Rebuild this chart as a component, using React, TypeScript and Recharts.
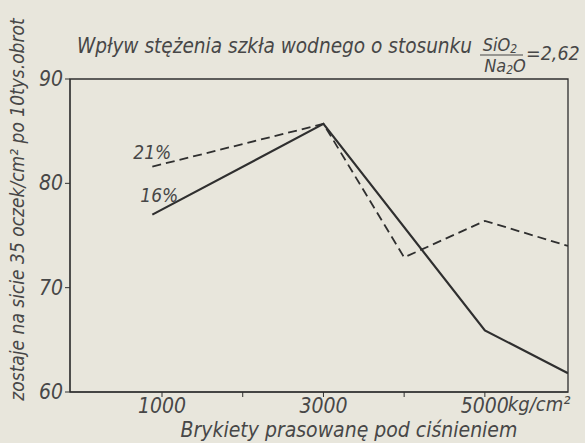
import { LineChart, Line, XAxis, YAxis, ReferenceArea } from "recharts";

// ciśnienie prasowania, kg/cm²
const pressure = [880, 3000, 4000, 5000, 6030];
// % pozostałości na sicie, szkło wodne 16% i 21%
const conc16 = [77.0, 85.7, null, 65.9, 61.8];
const conc21 = [81.6, 85.7, 72.9, 76.4, 74.0];
const xTicks = [1000, 2000, 3000, 4000, 5000];
const xLabeled = [1000, 3000, 5000];
const yTicks = [60, 70, 80, 90];
const seriesNames = ["16%", "21%"];

const data = pressure.map((p, i) => ({ p, c16: conc16[i], c21: conc21[i] }));

const FONT = "'Liberation Sans Narrow', 'DejaVu Sans Condensed', 'DejaVu Sans', sans-serif";
const INK = "#474747";
const LINE = "#2f2f2f";
const BG = "#e8e6dc";

const txt = { fontFamily: FONT, fontStyle: "italic", fill: INK } as const;

function XTick(props: any) {
  const { x, y, payload } = props;
  if (!xLabeled.includes(payload.value)) return null;
  return (
    <g>
      <text x={x} y={y} dy={14} textAnchor="middle" fontSize={21} style={txt}>
        {payload.value}
      </text>
      {payload.value === 5000 && (
        <text x={x + 23} y={y} dy={12} textAnchor="start" fontSize={20} style={txt}>
          kg/cm²
        </text>
      )}
    </g>
  );
}

function YTick(props: any) {
  const { x, y, payload } = props;
  return (
    <text x={x} y={y} dy={7} textAnchor="end" fontSize={21} style={txt}>
      {payload.value}
    </text>
  );
}

function seriesLabel(name: string, dx: number, dy: number) {
  return (props: any) => {
    if (props.index !== 0) return null;
    return (
      <text x={props.x + dx} y={props.y + dy} textAnchor="middle" fontSize={19} style={txt}>
        {name}
      </text>
    );
  };
}

export default function App() {
  return (
    <div style={{ position: "absolute", left: 0, top: 0, width: 585, height: 443, background: BG }}>
      <LineChart
        width={585}
        height={443}
        data={data}
        margin={{ top: 79, right: 17, bottom: 21, left: 30 }}
      >
        <ReferenceArea
          x1={-140}
          x2={6030}
          y1={60}
          y2={90}
          fill="none"
          stroke={LINE}
          strokeWidth={1.3}
          fillOpacity={0}
        />
        <XAxis
          dataKey="p"
          type="number"
          domain={[-140, 6030]}
          ticks={xTicks}
          tick={<XTick />}
          tickSize={5}
          height={30}
          stroke={LINE}
          allowDataOverflow
          label={{
            content: (p: any) => (
              <text
                x={p.viewBox.x + p.viewBox.width / 2 + 30}
                y={p.viewBox.y + 45}
                textAnchor="middle"
                fontSize={21}
                style={txt}
              >
                Brykiety prasowanę pod ciśnieniem
              </text>
            ),
          }}
        />
        <YAxis
          type="number"
          domain={[60, 90]}
          ticks={yTicks}
          tick={<YTick />}
          tickSize={5}
          width={40}
          stroke={LINE}
          label={{
            content: (p: any) => {
              const cx = p.viewBox.x - 6;
              const cy = p.viewBox.y + p.viewBox.height / 2 - 26;
              return (
                <text
                  x={cx}
                  y={cy}
                  transform={`rotate(-90 ${cx} ${cy})`}
                  textAnchor="middle"
                  fontSize={19}
                  style={txt}
                >
                  zostaje na sicie 35 oczek/cm² po 10tys.obrot
                </text>
              );
            },
          }}
        />
        <Line
          dataKey="c16"
          name={seriesNames[0]}
          stroke={LINE}
          strokeWidth={2.2}
          dot={false}
          connectNulls
          isAnimationActive={false}
          label={seriesLabel(seriesNames[0], 7, -13)}
        />
        <Line
          dataKey="c21"
          name={seriesNames[1]}
          stroke={LINE}
          strokeWidth={1.8}
          strokeDasharray="9 5"
          dot={false}
          isAnimationActive={false}
          label={seriesLabel(seriesNames[1], 0, -8)}
        />
      </LineChart>
      <svg
        width={585}
        height={443}
        style={{ position: "absolute", left: 0, top: 0, pointerEvents: "none" }}
      >
        <text x={77} y={53} fontSize={20.6} style={txt}>
          Wpływ stężenia szkła wodnego o stosunku
        </text>
        <text x={500} y={51} textAnchor="middle" fontSize={18} style={txt}>
          SiO<tspan fontSize={12} dy={2}>2</tspan>
        </text>
        <line x1={480} x2={523} y1={55} y2={55} stroke={INK} strokeWidth={1.2} />
        <text x={505} y={72} textAnchor="middle" fontSize={18} style={txt}>
          Na<tspan fontSize={12} dy={2}>2</tspan>
          <tspan dy={-2}>O</tspan>
        </text>
        <text x={526} y={60} fontSize={19.5} style={txt}>
          =2,62
        </text>
      </svg>
    </div>
  );
}
